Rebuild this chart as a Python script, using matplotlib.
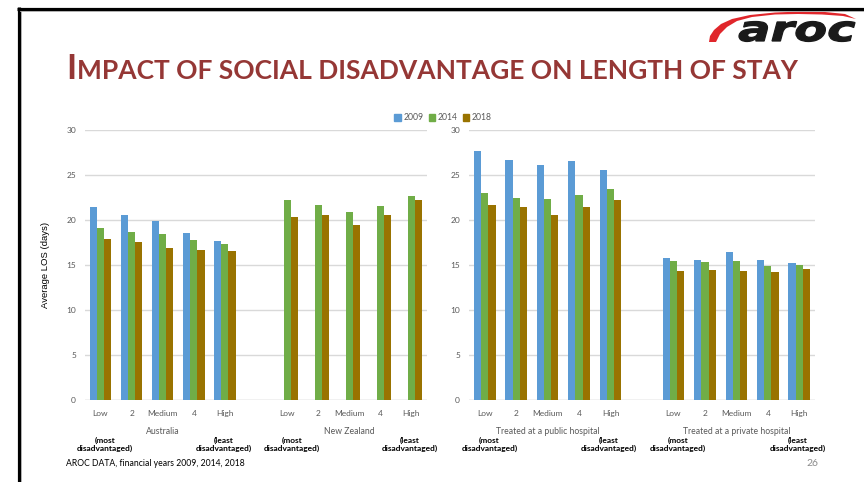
import numpy as np
import matplotlib
matplotlib.use("Agg")
import matplotlib.pyplot as plt
from matplotlib.patches import Patch, Polygon, PathPatch
from matplotlib.textpath import TextPath
from matplotlib.font_manager import FontProperties
from matplotlib.transforms import Affine2D, blended_transform_factory

# average length of stay (days) by disadvantage level
years = ["2009", "2014", "2018"]
levels = ["Low", "2", "Medium", "4", "High"]

aus_2009 = [21.4, 20.6, 19.9, 18.6, 17.7]
aus_2014 = [19.1, 18.7, 18.5, 17.8, 17.3]
aus_2018 = [17.9, 17.6, 16.9, 16.7, 16.6]

nz_2009 = [np.nan, np.nan, np.nan, np.nan, np.nan]
nz_2014 = [22.2, 21.7, 20.9, 21.6, 22.7]
nz_2018 = [20.3, 20.6, 19.4, 20.6, 22.2]

pub_2009 = [27.7, 26.7, 26.1, 26.6, 25.6]
pub_2014 = [23.0, 22.4, 22.3, 22.8, 23.4]
pub_2018 = [21.7, 21.4, 20.6, 21.5, 22.2]

priv_2009 = [15.8, 15.6, 16.4, 15.6, 15.2]
priv_2014 = [15.4, 15.3, 15.4, 14.9, 15.0]
priv_2018 = [14.3, 14.4, 14.3, 14.2, 14.6]

colors = ["#5B9BD5", "#70AD47", "#997300"]
grey = "#595959"
W, H = 864, 482

plt.rcParams["font.family"] = ["Lato", "DejaVu Sans"]

fig = plt.figure(figsize=(W / 100, H / 100), dpi=100)


def fx(px):
    return px / W


def fy(py):
    return 1 - py / H


def panel(left_px, right_px, groups):
    ax = fig.add_axes([fx(left_px), fy(400), fx(right_px - left_px), 270 / H])
    names = [g[0] for g in groups]
    # 5 levels, an empty slot, 5 levels
    series = []
    for k in range(3):
        s = list(groups[0][1][k]) + [np.nan] + list(groups[1][1][k])
        series.append(s)
    x = np.arange(11)
    bw = 0.23
    for k in range(3):
        ax.bar(x + (k - 1) * bw, series[k], width=bw, color=colors[k], zorder=3)
    ax.set_xlim(-0.5, 10.5)
    ax.set_ylim(0, 30)
    ax.set_yticks(range(0, 31, 5))
    ax.set_xticks(x)
    ax.set_xticklabels(levels + [""] + levels)
    ax.tick_params(axis="both", length=0, labelsize=6, colors=grey)
    ax.tick_params(axis="x", pad=7)
    ax.tick_params(axis="y", pad=6.5)
    ax.grid(axis="y", color="#D9D9D9", lw=1, zorder=0)
    for s in ax.spines.values():
        s.set_visible(False)
    ax.axhline(0, color="#D9D9D9", lw=1, zorder=2)

    tr = blended_transform_factory(ax.transData, fig.transFigure)
    for gi, start in enumerate([0, 6]):
        ax.text(start + 2, fy(431), names[gi], transform=tr, ha="center",
                va="center", fontsize=6.2, color=grey)
        ax.text(start + 0.15, fy(444.5), "(most\ndisadvantaged)", transform=tr,
                ha="center", va="center", fontsize=6, fontweight="bold",
                linespacing=1.1, color="black")
        ax.text(start + 3.95, fy(444.5), "(least\ndisadvantaged)", transform=tr,
                ha="center", va="center", fontsize=6, fontweight="bold",
                linespacing=1.1, color="black")
    return ax


ax1 = panel(85, 427, [("Australia", (aus_2009, aus_2014, aus_2018)),
                      ("New Zealand", (nz_2009, nz_2014, nz_2018))])
ax2 = panel(469, 815, [("Treated at a public hospital", (pub_2009, pub_2014, pub_2018)),
                       ("Treated at a private hospital", (priv_2009, priv_2014, priv_2018))])

fig.text(fx(46), fy(265), "Average LOS (days)", rotation=90, ha="center",
         va="center", fontsize=6.8, color="black", family=["Liberation Sans", "DejaVu Sans"])

handles = [Patch(color=c, label=y) for c, y in zip(colors, years)]
fig.legend(handles=handles, loc="center", bbox_to_anchor=(fx(443), fy(118)),
           ncol=3, frameon=False, fontsize=6.2, handlelength=0.75,
           handleheight=0.75, handletextpad=0.3, columnspacing=0.6,
           labelcolor=grey)

fig.text(fx(66), fy(463), "AROC DATA, financial years 2009, 2014, 2018",
         ha="left", va="center", fontsize=6.2, color="black")
fig.text(fx(812), fy(463), "26", ha="center", va="center", fontsize=7.5,
         color="#8C8C8C")

# title in small caps
red = "#953735"
renderer = fig.canvas.get_renderer()
t1 = fig.text(fx(66), fy(79), "I", fontsize=24.6, fontweight="bold", color=red,
              va="baseline", ha="left")
bb = t1.get_window_extent(renderer)
fig.text(bb.x1 / W + 0.001, fy(79), "MPACT OF SOCIAL DISADVANTAGE ON LENGTH OF STAY",
         fontsize=19, fontweight="bold", color=red, va="baseline", ha="left")

# frame, logo
ov = fig.add_axes([0, 0, 1, 1], zorder=10)
ov.set_xlim(0, W)
ov.set_ylim(H, 0)
ov.axis("off")
ov.patch.set_alpha(0)
ov.plot([17, W], [8.5, 8.5], color="black", lw=2.3, solid_capstyle="butt")
ov.plot([18.5, 18.5], [7, H], color="black", lw=2.3, solid_capstyle="butt")
ov.plot([20, W], [11, 11], color="#A6A6A6", lw=0.6)
ov.plot([21, 21], [11, H], color="#A6A6A6", lw=0.6)

swoosh = [(709, 42), (710, 36), (714, 30), (721, 24), (732, 19), (750, 15),
          (775, 12.5), (800, 11.5), (825, 12), (845, 14), (856, 19),
          (843, 16), (822, 14.5), (798, 14), (775, 14.5), (752, 17),
          (737, 21), (727, 27), (720, 34), (716, 42)]
ov.add_patch(Polygon(swoosh, closed=True, color="#E0262B", lw=0))

tp = TextPath((0, 0), "aroc", prop=FontProperties(family="DejaVu Sans",
                                                  weight="bold", style="italic"))
ext = tp.get_extents()
sx = (855 - 739) / ext.width
sy = (41.5 - 21.5) / ext.height
logo = Affine2D().translate(-ext.x0, -ext.y0).scale(sx, -sy).translate(739, 41.5)
ov.add_patch(PathPatch(logo.transform_path(tp), facecolor="#1A1A1A",
                       edgecolor="#1A1A1A", lw=0.9))

fig.savefig("out.png", dpi=100)
